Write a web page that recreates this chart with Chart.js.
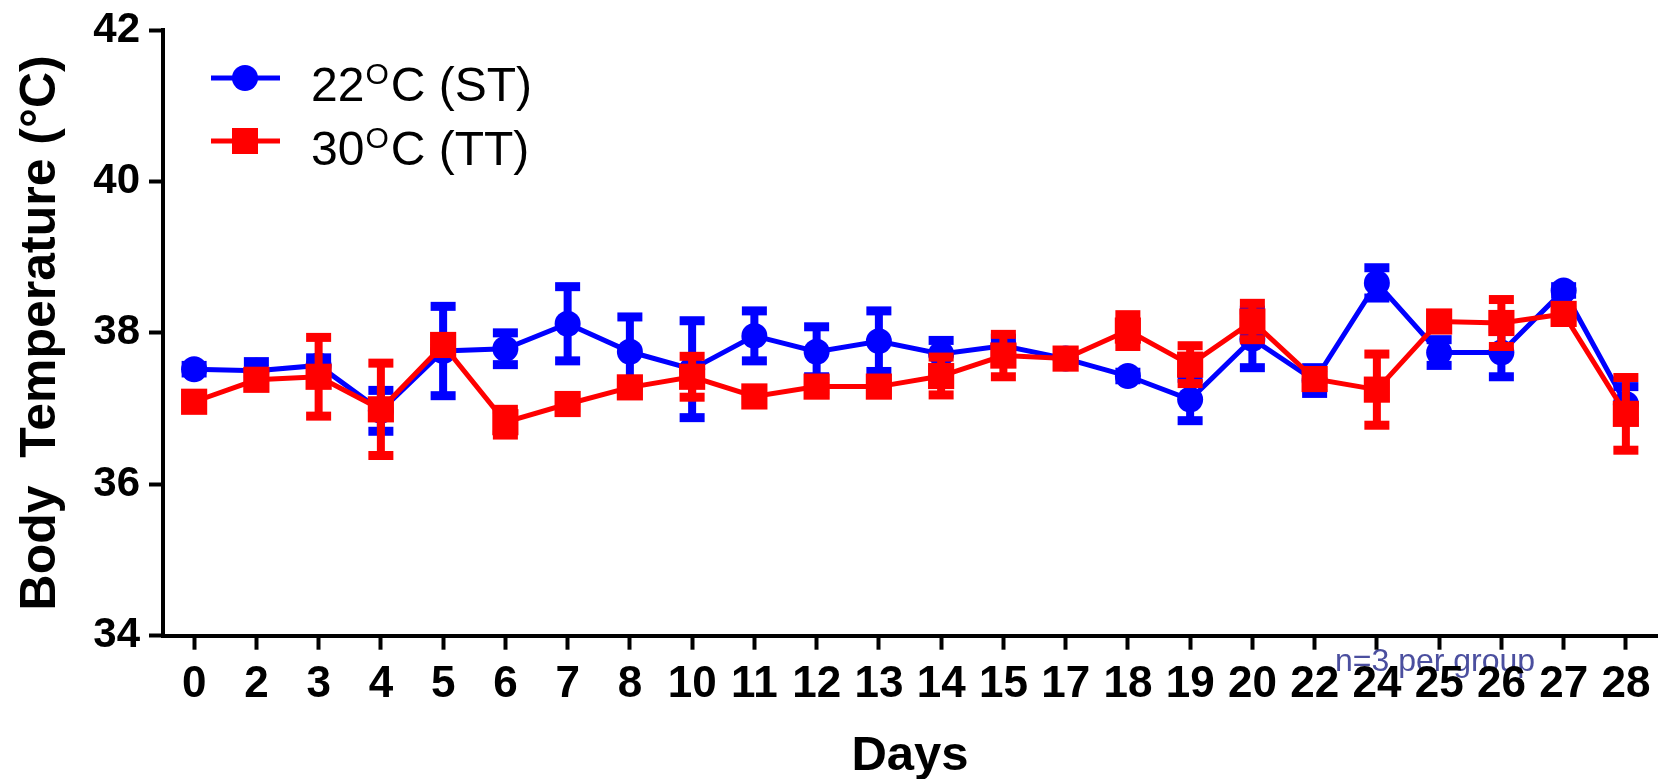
<!DOCTYPE html>
<html>
<head>
<meta charset="utf-8">
<script src="https://cdn.jsdelivr.net/npm/chart.js@4.4.1/dist/chart.umd.min.js"></script>
<style>
html,body{margin:0;padding:0;background:#fff;}
#wrap{width:1659px;height:779px;position:relative;}
</style>
</head>
<body>
<div id="wrap"><canvas id="c" width="1659" height="779"></canvas></div>
<script>
// ---- data ----
const days = ['0','2','3','4','5','6','7','8','10','11','12','13','14','15','17','18','19','20','22','24','25','26','27','28'];
const stMean = [37.52,37.50,37.57,36.97,37.76,37.79,38.12,37.75,37.52,37.96,37.75,37.89,37.72,37.83,37.66,37.43,37.12,37.92,37.37,38.66,37.74,37.74,38.56,37.06];
const stErr  = [0.05,0.12,0.10,0.27,0.59,0.21,0.49,0.46,0.64,0.33,0.33,0.40,0.18,0.10,0.05,0.05,0.28,0.38,0.17,0.20,0.17,0.32,0.05,0.23];
const ttMean = [37.09,37.38,37.42,36.99,37.84,36.82,37.06,37.28,37.42,37.16,37.29,37.29,37.43,37.70,37.66,38.03,37.58,38.15,37.39,37.25,38.15,38.13,38.25,36.93];
const ttErr  = [0.05,0.08,0.52,0.61,0.05,0.17,0.05,0.05,0.27,0.05,0.05,0.05,0.25,0.28,0.05,0.21,0.25,0.24,0.05,0.47,0.05,0.31,0.05,0.48];
const yMin = 34, yMax = 42, yStep = 2;
const legendBase = ['22', '30'];
const legendSup = 'O';
const legendRest = ['C (ST)', 'C (TT)'];
const noteText = 'n=3 per group';
const xTitle = 'Days';
const yTitle = 'Body  Temperature (°C)';

const FONT = '"Liberation Sans", Arial, Helvetica, sans-serif';
const BLUE = '#0000ff', RED = '#ff0000';

const errorBars = {
  id: 'errorBars',
  beforeDatasetDraw(chart, args) {
    const ds = chart.data.datasets[args.index];
    const errs = ds.errors;
    if (!errs) return;
    const ys = chart.scales.y;
    const ctx = chart.ctx;
    ctx.save();
    ctx.fillStyle = ds.borderColor;
    args.meta.data.forEach((pt, i) => {
      const v = ds.data[i], e = errs[i];
      const top = ys.getPixelForValue(v + e);
      const bot = ys.getPixelForValue(v - e);
      ctx.fillRect(pt.x - 4, top, 8, bot - top);
      ctx.fillRect(pt.x - 12.5, top - 4.5, 25, 9);
      ctx.fillRect(pt.x - 12.5, bot - 4.5, 25, 9);
    });
    ctx.restore();
  }
};

const extras = {
  id: 'extras',
  beforeDraw(chart) {
    const ctx = chart.ctx;
    ctx.save();
    ctx.fillStyle = '#4b4f9f';
    ctx.font = '32px ' + FONT;
    ctx.textBaseline = 'alphabetic';
    ctx.textAlign = 'left';
    ctx.fillText(noteText, 1335, 671);
    ctx.restore();
  },
  afterDraw(chart) {
    const ctx = chart.ctx;
    const rows = [
      {y: 78, base: 101, color: BLUE, shape: 'circle'},
      {y: 141, base: 165, color: RED, shape: 'rect'}
    ];
    ctx.save();
    rows.forEach((r, i) => {
      ctx.strokeStyle = r.color;
      ctx.fillStyle = r.color;
      ctx.lineWidth = 5;
      ctx.beginPath();
      ctx.moveTo(211, r.y);
      ctx.lineTo(280, r.y);
      ctx.stroke();
      if (r.shape === 'circle') {
        ctx.beginPath();
        ctx.arc(245, r.y, 13, 0, Math.PI * 2);
        ctx.fill();
      } else {
        ctx.fillRect(245 - 13, r.y - 13, 26, 26);
      }
      ctx.fillStyle = '#000';
      ctx.textBaseline = 'alphabetic';
      ctx.textAlign = 'left';
      let x = 311;
      ctx.font = '48px ' + FONT;
      ctx.fillText(legendBase[i], x, r.base);
      x += ctx.measureText(legendBase[i]).width + 1;
      ctx.font = '30px ' + FONT;
      ctx.fillText(legendSup, x, r.base - 17);
      x += ctx.measureText(legendSup).width + 2;
      ctx.font = '48px ' + FONT;
      ctx.fillText(legendRest[i], x, r.base);
    });
    ctx.restore();
  }
};

new Chart(document.getElementById('c'), {
  type: 'line',
  data: {
    labels: days,
    datasets: [
      {
        label: legendBase[0] + legendSup + legendRest[0],
        data: stMean,
        errors: stErr,
        borderColor: BLUE,
        backgroundColor: BLUE,
        borderWidth: 5,
        pointStyle: 'circle',
        pointRadius: 13,
        pointHoverRadius: 13,
        pointBorderWidth: 0,
        tension: 0,
        clip: false,
        order: 2
      },
      {
        label: legendBase[1] + legendSup + legendRest[1],
        data: ttMean,
        errors: ttErr,
        borderColor: RED,
        backgroundColor: RED,
        borderWidth: 5,
        pointStyle: 'rect',
        pointRadius: 18.5,
        pointHoverRadius: 18.5,
        pointBorderWidth: 0,
        tension: 0,
        clip: false,
        order: 1
      }
    ]
  },
  options: {
    responsive: false,
    animation: false,
    devicePixelRatio: 1,
    layout: { autoPadding: false, padding: { left: 0, right: 2, top: 30, bottom: 0 } },
    plugins: {
      legend: { display: false },
      tooltip: { enabled: false }
    },
    scales: {
      x: {
        type: 'category',
        offset: true,
        afterFit: (s) => { s.height = 779 - 635.7; s.paddingLeft = 0; s.paddingRight = 0; },
        grid: {
          display: true,
          drawOnChartArea: false,
          drawTicks: true,
          tickLength: 14,
          tickWidth: 4,
          tickColor: '#000',
          offset: false
        },
        border: { display: true, color: '#000', width: 4 },
        ticks: {
          color: '#000',
          font: { family: FONT, size: 44, weight: 'bold' },
          padding: 9,
          maxRotation: 0,
          autoSkip: false
        },
        title: {
          display: true,
          text: xTitle,
          color: '#000',
          font: { family: FONT, size: 49, weight: 'bold' },
          padding: { top: 0, bottom: -7 }
        }
      },
      y: {
        min: yMin,
        max: yMax,
        afterFit: (s) => { s.width = 163; s.paddingTop = 0; s.paddingBottom = 0; },
        grid: {
          display: true,
          drawOnChartArea: false,
          drawTicks: true,
          tickLength: 14,
          tickWidth: 4,
          tickColor: '#000'
        },
        border: { display: true, color: '#000', width: 4 },
        ticks: {
          stepSize: yStep,
          color: '#000',
          font: { family: FONT, size: 42, weight: 'bold' },
          padding: 9
        },
        title: {
          display: true,
          text: yTitle,
          color: '#000',
          font: { family: FONT, size: 50, weight: 'bold' },
          padding: { top: 11, bottom: 0 }
        }
      }
    }
  },
  plugins: [errorBars, extras]
});
</script>
</body>
</html>
